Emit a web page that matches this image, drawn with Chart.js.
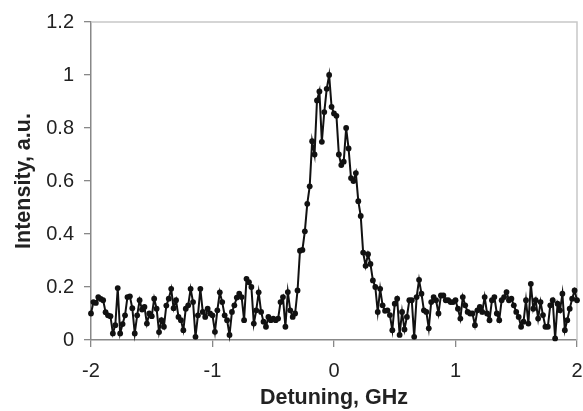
<!DOCTYPE html>
<html>
<head>
<meta charset="utf-8">
<script src="https://cdn.jsdelivr.net/npm/chart.js@4.4.0/dist/chart.umd.min.js"></script>
<style>
  html, body { margin: 0; padding: 0; background: #fff; }
  #wrap { width: 583px; height: 411px; }
</style>
</head>
<body>
<div id="wrap"><canvas id="spectrum" width="583" height="411"></canvas></div>
<script>
// detuning, GHz
const detuning = [
  -2.00, -1.98, -1.96, -1.94, -1.92, -1.90, -1.88, -1.86, -1.84, -1.82,
  -1.80, -1.78, -1.76, -1.74, -1.72, -1.70, -1.68, -1.66, -1.64, -1.62,
  -1.60, -1.58, -1.56, -1.54, -1.52, -1.50, -1.48, -1.46, -1.44, -1.42,
  -1.40, -1.38, -1.36, -1.34, -1.32, -1.30, -1.28, -1.26, -1.24, -1.22,
  -1.20, -1.18, -1.16, -1.14, -1.12, -1.10, -1.08, -1.06, -1.04, -1.02,
  -1.00, -0.98, -0.96, -0.94, -0.92, -0.90, -0.88, -0.86, -0.84, -0.82,
  -0.80, -0.78, -0.76, -0.74, -0.72, -0.70, -0.68, -0.66, -0.64, -0.62,
  -0.60, -0.58, -0.56, -0.54, -0.52, -0.50, -0.48, -0.46, -0.44, -0.42,
  -0.40, -0.38, -0.36, -0.34, -0.32, -0.30, -0.28, -0.26, -0.24, -0.22,
  -0.20, -0.18, -0.16, -0.14, -0.12, -0.10, -0.08, -0.06, -0.04, -0.02,
   0.00,  0.02,  0.04,  0.06,  0.08,  0.10,  0.12,  0.14,  0.16,  0.18,
   0.20,  0.22,  0.24,  0.26,  0.28,  0.30,  0.32,  0.34,  0.36,  0.38,
   0.40,  0.42,  0.44,  0.46,  0.48,  0.50,  0.52,  0.54,  0.56,  0.58,
   0.60,  0.62,  0.64,  0.66,  0.68,  0.70,  0.72,  0.74,  0.76,  0.78,
   0.80,  0.82,  0.84,  0.86,  0.88,  0.90,  0.92,  0.94,  0.96,  0.98,
   1.00,  1.02,  1.04,  1.06,  1.08,  1.10,  1.12,  1.14,  1.16,  1.18,
   1.20,  1.22,  1.24,  1.26,  1.28,  1.30,  1.32,  1.34,  1.36,  1.38,
   1.40,  1.42,  1.44,  1.46,  1.48,  1.50,  1.52,  1.54,  1.56,  1.58,
   1.60,  1.62,  1.64,  1.66,  1.68,  1.70,  1.72,  1.74,  1.76,  1.78,
   1.80,  1.82,  1.84,  1.86,  1.88,  1.90,  1.92,  1.94,  1.96,  1.98,
   2.00
];

// intensity, a.u.
const intensity = [
  0.100, 0.143, 0.140, 0.162, 0.155, 0.150, 0.105, 0.093, 0.090, 0.025,
  0.056, 0.196, 0.025, 0.060, 0.093, 0.162, 0.165, 0.120, 0.025, 0.093,
  0.150, 0.115, 0.125, 0.062, 0.100, 0.090, 0.156, 0.118, 0.030, 0.075,
  0.050, 0.130, 0.156, 0.193, 0.120, 0.150, 0.087, 0.075, 0.037, 0.118,
  0.131, 0.193, 0.143, 0.012, 0.093, 0.193, 0.106, 0.087, 0.118, 0.100,
  0.093, 0.031, 0.112, 0.180, 0.143, 0.093, 0.075, 0.019, 0.106, 0.131,
  0.160, 0.175, 0.162, 0.075, 0.231, 0.218, 0.200, 0.062, 0.112, 0.180,
  0.106, 0.069, 0.050, 0.087, 0.075, 0.081, 0.075, 0.081, 0.143, 0.162,
  0.050, 0.181, 0.112, 0.087, 0.100, 0.187, 0.337, 0.340, 0.410, 0.514,
  0.580, 0.750, 0.700, 0.904, 0.938, 0.748, 0.860, 0.948, 1.000, 0.880,
  0.855, 0.846, 0.700, 0.660, 0.673, 0.800, 0.723, 0.611, 0.600, 0.630,
  0.524, 0.468, 0.330, 0.280, 0.324, 0.287, 0.225, 0.200, 0.106, 0.193,
  0.131, 0.110, 0.112, 0.094, 0.037, 0.137, 0.156, 0.019, 0.106, 0.040,
  0.087, 0.150, 0.150, 0.012, 0.162, 0.227, 0.175, 0.112, 0.106, 0.044,
  0.143, 0.162, 0.150, 0.100, 0.168, 0.168, 0.150, 0.150, 0.143, 0.143,
  0.150, 0.118, 0.081, 0.162, 0.131, 0.106, 0.100, 0.100, 0.056, 0.112,
  0.125, 0.106, 0.162, 0.100, 0.075, 0.150, 0.162, 0.100, 0.075, 0.150,
  0.162, 0.181, 0.150, 0.156, 0.131, 0.106, 0.087, 0.050, 0.069, 0.150,
  0.062, 0.212, 0.118, 0.150, 0.081, 0.143, 0.094, 0.050, 0.050, 0.131,
  0.150, 0.006, 0.137, 0.112, 0.175, 0.037, 0.075, 0.118, 0.156, 0.187,
  0.150
];

const xTickLabels = ['-2', '-1', '0', '1', '2'];
const yTickLabels = ['0', '0.2', '0.4', '0.6', '0.8', '1', '1.2'];

// 위쪽/오른쪽 연한 회색 테두리
const frameLines = {
  id: 'frameLines',
  beforeDatasetsDraw(chart) {
    const { ctx, chartArea: { left, top, right, bottom } } = chart;
    ctx.save();
    ctx.strokeStyle = '#c8c8c8';
    ctx.lineWidth = 1.5;
    ctx.beginPath();
    ctx.moveTo(left, top);
    ctx.lineTo(right, top);
    ctx.lineTo(right, bottom);
    ctx.stroke();
    ctx.restore();
  }
};

const points = detuning.map((x, i) => ({ x: x, y: intensity[i] }));

new Chart(document.getElementById('spectrum'), {
  type: 'line',
  data: {
    datasets: [{
      data: points,
      borderColor: '#111',
      backgroundColor: '#111',
      borderWidth: 2,
      pointRadius: 2.9,
      pointBorderWidth: 0,
      tension: 0,
      clip: 6
    }]
  },
  options: {
    responsive: false,
    animation: false,
    layout: { padding: { left: 0, right: 6, top: 19, bottom: 0 } },
    plugins: { legend: { display: false }, tooltip: { enabled: false } },
    scales: {
      x: {
        type: 'linear',
        min: -2, max: 2,
        afterFit(scale) {
          scale.height = 71;
          scale.paddingLeft = 0;
          scale.paddingRight = 0;
        },
        ticks: {
          stepSize: 1,
          padding: 12,
          color: '#222',
          font: { family: 'Liberation Sans, Arial', size: 20 },
          callback: (v) => xTickLabels[Math.round(v + 2)]
        },
        grid: { drawOnChartArea: false, tickLength: 7, color: '#888', lineWidth: 1.3 },
        border: { color: '#888', width: 1.5 },
        title: {
          display: true,
          text: 'Detuning, GHz',
          color: '#222',
          font: { family: 'Liberation Sans, Arial', size: 21.5, weight: 'bold' },
          padding: { top: 0, bottom: 0 }
        }
      },
      y: {
        min: 0, max: 1.2,
        afterFit(scale) { scale.width = 91; },
        ticks: {
          stepSize: 0.2,
          padding: 10,
          color: '#222',
          font: { family: 'Liberation Sans, Arial', size: 20 },
          callback: (v) => yTickLabels[Math.round(v / 0.2)]
        },
        grid: { drawOnChartArea: false, tickLength: 7, color: '#888', lineWidth: 1.3 },
        border: { color: '#888', width: 1.5 },
        title: {
          display: true,
          text: 'Intensity, a.u.',
          color: '#222',
          font: { family: 'Liberation Sans, Arial', size: 21.5, weight: 'bold' },
          padding: { top: 11, bottom: 0 }
        }
      }
    }
  },
  plugins: [frameLines]
});
</script>
</body>
</html>
